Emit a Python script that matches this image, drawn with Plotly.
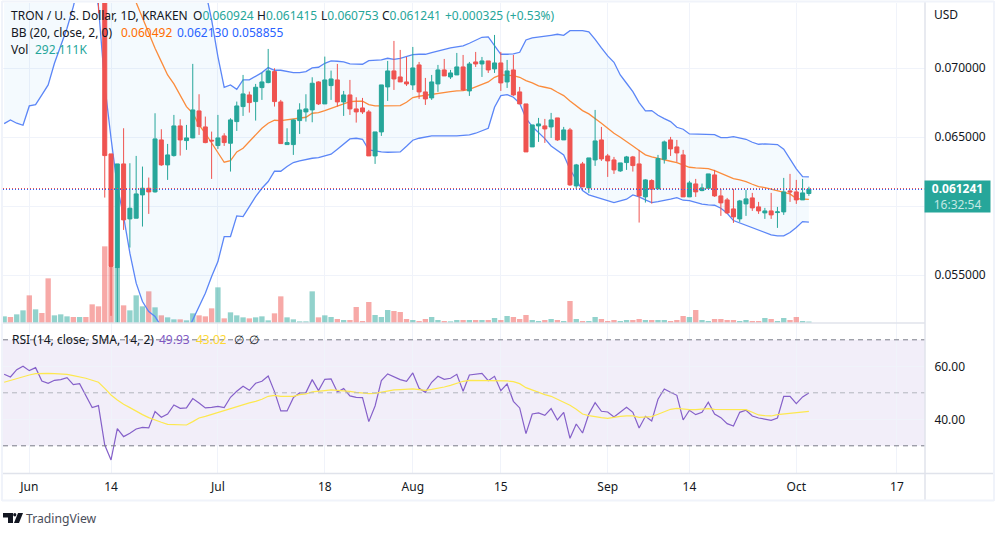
import pandas as pd
import plotly.graph_objects as go

W, H = 1004, 536
FONT = "Noto Sans"
TEAL = "#26a69a"
RED = "#ef5350"
GRID = "#f0f3fa"
BORDER = "#e0e3eb"

dates = pd.date_range("2022-05-28", "2022-10-03", freq="D")

# ohlc, in units of 1e-6 USD. first 14 days are above the visible range
opens = [79000, 79800, 79200, 81500, 82200, 79200, 80400, 79800, 79000, 79500, 80300, 80800, 80000, 80500,
         79000, 77500, 76200, 63794, 55558, 63069, 59084, 59133, 60823, 61306, 61041, 64808, 62997, 63673, 65822, 64760, 64953, 66909, 65750, 64784,
         64398, 65098, 64567, 66136, 67223, 68068, 67585, 68600, 68962, 69759, 67561, 64470, 64470, 66209, 66837, 66982, 69010, 67416,
         68744, 69155, 67561, 68068, 67054, 67126, 66837, 63649, 65388, 68648, 69807, 69372, 69010,
         68793, 70242, 68286, 67851, 68865, 69880, 69372, 69517, 70097, 68358, 70459, 70314, 70532, 69952, 70387, 69010, 69880, 68286, 67416, 64301, 65822, 65822, 65750, 66402, 64808, 65532, 61475, 63069, 61330, 63359, 64808,
         63649, 63359, 62562, 63166, 63576, 63069, 60678, 61862, 61258, 63407, 64808, 64301, 63721, 60678, 61620, 61137, 61306, 62272, 60751, 60461, 59809, 59084, 60171, 60606, 59954, 59519, 59664, 59543, 59592, 61113,
         61041, 60461, 60924]
highs = [80200, 80500, 82000, 83000, 82900, 80900, 81200, 80200, 80000, 80800, 81200, 81500, 81000, 81000,
         79500, 78000, 76800, 63794, 63069, 65653, 63118, 63649, 62876, 62079, 66740, 65581, 64518, 66619, 66305, 65895, 70318, 68117, 66499, 65412,
         66619, 65291, 66378, 67585, 69517, 68310, 68865, 69686, 71401, 70000, 67706, 65653, 66305, 67465, 68117, 69348, 69058, 70846,
         69831, 70314, 68358, 69155, 67899, 67851, 66982, 65388, 68793, 70532, 71981, 71329, 70821,
         71546, 70459, 69300, 69517, 70242, 70676, 69880, 71111, 70966, 70459, 71184, 70821, 70532, 72415, 71184, 70604, 70966, 68648, 67416, 65895, 66402, 66330, 66764, 66402, 65750, 65677, 63069, 63214, 63504, 66982, 65750,
         63794, 63576, 63142, 63649, 63649, 64084, 61958, 61958, 63721, 64760, 65025, 64808, 64084, 61838, 61982, 61644, 62345, 62635, 61258, 60606, 61258, 60461, 61186, 60968, 60316, 59881, 60968, 59954, 62055, 62345,
         61910, 61983, 61415]
lows = [78400, 78900, 79000, 80800, 78500, 78600, 79300, 77500, 78500, 79100, 79300, 79700, 79600, 78500,
        74830, 73985, 60630, 52057, 51574, 58287, 57008, 59133, 58529, 59447, 60992, 62924, 61910, 63600, 63673, 64084, 64929, 65170, 64567, 61982,
        64156, 64373, 62514, 65460, 66547, 66788, 66209, 67706, 68914, 67223, 64518, 64470, 63721, 65243, 66136, 66088, 67344, 67416,
        67706, 67223, 66547, 66619, 66064, 66692, 63649, 63069, 65098, 67634, 68430, 69010, 68720,
        68430, 67779, 67344, 67706, 68286, 69445, 69227, 69517, 68358, 67996, 70097, 69372, 69662, 69662, 68358, 68575, 67996, 67416, 63939, 64301, 64663, 64591, 64953, 64735, 64808, 61475, 61258, 61403, 60968, 62924, 63287,
        62127, 62345, 62490, 62635, 62514, 58819, 60268, 60195, 61258, 63093, 63649, 63214, 60678, 60678, 60678, 61089, 61306, 60678, 59302, 59447, 58795, 58867, 59302, 59664, 59447, 59084, 59084, 58432, 59374, 60316,
        60171, 60461, 60753]
closes = [79800, 79200, 81500, 82200, 79200, 80400, 79800, 79000, 79500, 80300, 80800, 80000, 80500, 79000,
          77500, 76200, 63673, 55631, 63069, 59012, 59857, 60896, 61306, 61041, 64881, 62997, 63721, 65822, 64808, 64953, 66982, 65774, 64615, 64736,
          64953, 64615, 66257, 67271, 68141, 67513, 68624, 69010, 69807, 67585, 64542, 64615, 66257, 66982, 67054, 68914, 67416, 69155,
          69227, 67561, 68068, 67054, 66837, 66837, 63649, 65388, 68793, 69807, 69227, 69010, 68865,
          70024, 68286, 67779, 69010, 69880, 69445, 69662, 70097, 68430, 70314, 70314, 70532, 69880, 70387, 68938, 69807, 68068, 67416, 63939, 65895, 65967, 65605, 66257, 64808, 65532, 61548, 62997, 61403, 63504, 64736, 63431,
          63287, 62635, 63142, 63576, 62948, 60751, 61910, 61234, 63456, 64663, 64156, 63866, 60678, 61693, 61041, 61330, 62345, 60751, 60244, 59519, 59230, 60388, 60534, 59881, 59664, 59664, 59374, 59592, 61041, 61041,
          60461, 60968, 61241]

# volume in thousands
volume = [1330, 1200, 1730, 2530, 5530, 2730, 2000, 8930, 1530, 1730, 1330, 1200, 1200, 1200, 3730, 3330, 15330, 11200, 11200, 3530, 2530, 5530, 3330, 6330, 3130, 1530, 1130, 730, 730, 530, 1930, 1530, 1330, 2930,
          7130, 930, 2130, 1530, 1130, 930, 1130, 1330, 530, 1930, 5330, 1130, 730, 330, 330, 6330, 1130, 1530,
          1200, 800, 600, 600, 3200, 400, 4200, 1600, 1200, 2600, 2400, 2200, 800,
          600, 400, 800, 1200, 600, 400, 333, 600, 600, 600, 600, 600, 600, 1000, 600, 1400, 1200, 800, 1600, 600, 400, 600, 800, 600, 400, 4400, 800, 400, 400, 1200, 800,
          400, 600, 400, 600, 600, 800, 600, 600, 600, 600, 400, 600, 1400, 1200, 2600, 600, 400, 800, 800, 600, 600, 400, 600, 400, 400, 1000, 800, 400, 1000, 600,
          1200, 400, 292]

bb_upper = [92000, 92000, 92000, 91500, 91000, 91000, 90500, 90000, 90000, 89500, 89000, 88500, 88000, 88000, 88000, 88000, 89000, 89500, 90000, 90000, 90000, 90000, 89500, 89000, 88500, 88000, 87000, 86000, 84500, 83000, 81000, 78500, 75676, 73502,
            70846, 68624, 68793, 68479, 69155, 69155, 69396, 69686, 70049, 69855, 69855, 69759, 69686, 69686, 69759, 70025, 70073, 70362,
            70532, 70507, 70459, 70314, 70290, 70290, 70556, 70556, 70604, 70725, 70652, 70725, 70846,
            70990, 71015, 71015, 71135, 71256, 71377, 71473, 71546, 71618, 71812, 72053, 72246, 72270, 71618, 71015, 71015, 71039, 71159, 72053, 72198, 72246, 72343, 72391, 72464, 72391, 72729, 72753, 72729, 72633, 72101, 71473,
            70894, 70435, 69517, 68914, 68310, 67513, 66909, 66933, 66595, 66354, 66136, 65726, 65581, 65243, 65243, 65243, 65243, 65194, 64977, 64977, 65050, 64977, 64856, 64639, 64494, 64518, 64518, 64470, 64132, 63407,
            62707, 62152, 62130]
bb_basis = [83500, 83500, 83400, 83300, 83200, 83000, 82800, 82500, 82200, 81900, 81500, 81000, 80500, 80000, 79500, 79000, 78700, 78400, 77900, 76883, 75676, 74758, 73623, 72488, 71449, 70483, 69517, 68865, 68068, 67223, 66740, 65895, 65291, 64615,
            63842, 63190, 63311, 63939, 64204, 64688, 65170, 65653, 66016, 66233, 66209, 66257, 66330, 66378, 66450, 66740, 66788, 66933,
            67102, 67271, 67464, 67585, 67609, 67609, 67368, 67271, 67271, 67271, 67271, 67296, 67537,
            67875, 67972, 68044, 68141, 68213, 68286, 68310, 68358, 68382, 68479, 68648, 68817, 69010, 69348, 69517, 69493, 69469, 69348, 69107, 68938, 68720, 68624, 68527, 68261, 68020, 67634, 67271, 66933, 66692, 66378, 66016,
            65653, 65291, 65001, 64711, 64373, 64035, 63721, 63576, 63456, 63359, 63262, 63166, 62973, 62828, 62780, 62731, 62731, 62586, 62393, 62200, 62007, 61910, 61789, 61596, 61427, 61355, 61234, 61137, 61041, 60896,
            60558, 60509, 60492]
bb_lower = [65991, 66257, 66016, 65870, 67271, 67368, 68068, 68793, 70362, 71570, 72898, 74468, 76400, 77366, 76883, 74468, 68793, 64929, 61427, 59253, 56597, 54424, 53095, 52371, 52008, 51284, 50560, 50076, 50076, 50801, 51767, 52733, 53699, 54906,
            55993, 57804, 57804, 59302, 59253, 59978, 60703, 61306, 61789, 62538, 62538, 62876, 63166, 63287, 63407, 63480, 63528, 63649,
            63770, 64132, 64518, 64880, 64929, 64856, 64084, 63987, 63939, 63915, 63915, 63939, 64349,
            64784, 64929, 65025, 65098, 65098, 65122, 65098, 65098, 65122, 65170, 65291, 65460, 65653, 67175, 68020, 68092, 67899, 67464, 66378, 65774, 65363, 64905, 64373, 64035, 63721, 62683, 61958, 61137, 60823, 60678, 60533,
            60389, 60268, 60389, 60509, 60823, 60678, 60461, 60268, 60340, 60413, 60509, 60630, 60437, 60413, 60292, 60147, 60099, 60075, 59857, 59495, 58964, 58795, 58650, 58481, 58287, 58094, 57925, 57853, 57853, 58094,
            58457, 58891, 58855]

rsi = [56.98, 55.98, 58.75, 60.0, 58.37, 59.5, 54.47, 53.59, 54.72, 54.97, 55.73, 53.08, 53.46, 49.06, 44.4, 45.16, 30.31, 24.65, 36.48, 33.46, 34.72, 36.35, 36.98, 36.73, 42.9, 40.76, 42.01, 45.41, 44.15, 44.28, 47.8, 46.17, 44.28, 44.53,
       44.91, 44.4, 48.3, 50.57, 52.46, 50.95, 53.59, 54.34, 56.36, 50.44, 43.15, 43.15, 48.18, 49.94, 50.07, 54.97, 50.82, 55.1,
       55.22, 50.32, 51.58, 48.81, 48.3, 48.18, 39.12, 45.03, 54.59, 57.11, 55.98, 54.97, 54.34,
       57.49, 51.7, 50.19, 53.97, 56.23, 55.1, 55.48, 56.98, 50.57, 56.73, 56.98, 57.36, 54.59, 56.23, 50.82, 53.34, 46.79, 44.28, 34.59, 42.01, 42.39, 41.51, 44.03, 39.75, 42.64, 32.83, 38.24, 34.84, 42.01, 46.29, 43.02,
       42.77, 40.88, 42.77, 44.53, 42.64, 36.73, 41.13, 39.37, 47.55, 51.45, 50.19, 49.06, 39.75, 43.4, 41.76, 42.64, 46.42, 42.01, 40.63, 38.37, 37.49, 42.64, 43.4, 41.26, 40.5, 40.13, 39.62, 40.5, 48.68, 48.68,
       45.91, 48.43, 49.93]
rsi_ma = [53.97, 54.72, 55.48, 56.1, 56.73, 57.24, 57.36, 57.36, 57.24, 57.24, 56.98, 56.48, 56.1, 55.48, 54.72, 53.97, 51.7, 49.18, 47.3, 45.66, 44.4, 43.02, 41.76, 40.63, 39.62, 38.87, 38.12, 37.99, 37.86, 37.86, 39.12, 40.5, 41.13, 41.89,
          42.64, 43.27, 44.03, 44.91, 45.54, 46.17, 46.79, 47.55, 48.68, 49.06, 48.68, 48.56, 48.68, 49.31, 49.56, 50.32, 50.44, 50.82,
          51.07, 50.95, 50.82, 50.57, 50.19, 49.94, 49.69, 49.81, 50.19, 50.82, 51.07, 51.2, 51.32,
          51.45, 51.2, 50.95, 51.32, 51.7, 52.2, 52.83, 53.59, 54.34, 54.72, 54.72, 54.72, 54.59, 54.59, 54.47, 54.47, 54.22, 53.46, 51.95, 51.07, 50.07, 49.31, 48.68, 47.55, 46.54, 45.28, 43.78, 42.01, 41.39, 40.88, 40.63,
          40.38, 40.88, 41.13, 41.26, 41.26, 40.76, 40.76, 41.01, 41.89, 42.77, 43.78, 44.15, 43.78, 43.65, 43.65, 43.78, 44.03, 43.78, 43.78, 43.65, 43.52, 43.65, 43.65, 42.64, 41.64, 41.39, 41.26, 41.76, 42.01, 42.14,
          42.27, 42.77, 43.02]

tick_dates = ["2022-06-01", "2022-06-14", "2022-07-01", "2022-07-18", "2022-08-01", "2022-08-15", "2022-09-01", "2022-09-14", "2022-10-01", "2022-10-17"]
tick_labels = ["Jun", "14", "Jul", "18", "Aug", "15", "Sep", "14", "Oct", "17"]
price_ticks = [0.07, 0.065, 0.06, 0.055]
price_labels = ["0.070000", "0.065000", "", "0.055000"]
rsi_ticks = [60, 40]
rsi_labels = ["60.00", "40.00"]

for arr in [opens, highs, lows, closes, volume, bb_upper, bb_basis, bb_lower, rsi, rsi_ma]:
    assert len(arr) == len(dates), len(arr)


def usd(arr):
    return [v / 1e6 for v in arr]


def px(x):
    return x / W


def py(y):
    return 1 - y / H


vol_colors = ["rgba(38,166,154,0.5)" if c >= o else "rgba(239,83,80,0.5)" for o, c in zip(opens, closes)]

fig = go.Figure()
fig.add_trace(go.Bar(x=dates, y=volume, marker_color=vol_colors, marker_line_width=0, yaxis="y", xaxis="x"))
fig.add_trace(go.Scatter(x=dates, y=usd(bb_upper), mode="lines", line=dict(color="#5b86f7", width=1.3), yaxis="y2"))
fig.add_trace(go.Scatter(x=dates, y=usd(bb_lower), mode="lines", line=dict(color="#5b86f7", width=1.3), yaxis="y2",
                         fill="tonexty", fillcolor="rgba(33,150,243,0.05)"))
fig.add_trace(go.Scatter(x=dates, y=usd(bb_basis), mode="lines", line=dict(color="#fb8c3c", width=1.3), yaxis="y2"))
fig.add_trace(go.Candlestick(x=dates, open=usd(opens), high=usd(highs), low=usd(lows), close=usd(closes), yaxis="y3",
                             increasing=dict(line=dict(color=TEAL, width=1), fillcolor=TEAL),
                             decreasing=dict(line=dict(color=RED, width=1), fillcolor=RED),
                             whiskerwidth=0))
fig.add_trace(go.Scatter(x=dates, y=rsi, mode="lines", line=dict(color="#8560c9", width=1.2), yaxis="y4"))
fig.add_trace(go.Scatter(x=dates, y=rsi_ma, mode="lines", line=dict(color="#fde84f", width=1.2), yaxis="y4"))

main_dom = [py(323), py(3)]
rsi_dom = [py(473.5), py(323)]
price_range = [0.05154, 0.07473]
tick_font = dict(family=FONT, size=12, color="#131722")

fig.update_layout(
    width=W, height=H, margin=dict(l=0, r=0, t=0, b=0),
    paper_bgcolor="white", plot_bgcolor="white",
    showlegend=False, bargap=0.15, boxgap=0.09,
    font=dict(family=FONT, size=12, color="#131722"),
    xaxis=dict(domain=[px(3), px(925)], anchor="y4", type="date",
               range=["2022-05-27 19:36", "2022-10-21 11:17"],
               tickmode="array", tickvals=tick_dates, ticktext=tick_labels,
               showgrid=True, gridcolor=GRID, gridwidth=1, zeroline=False,
               ticks="outside", ticklen=2, tickcolor="rgba(0,0,0,0)",
               tickfont=tick_font, rangeslider=dict(visible=False)),
    yaxis=dict(domain=main_dom, range=[0, 64000], visible=False, fixedrange=True),
    yaxis2=dict(domain=main_dom, overlaying="y", range=price_range, visible=False),
    yaxis3=dict(domain=main_dom, overlaying="y", range=price_range, side="right", anchor="x",
                tickmode="array", tickvals=price_ticks, ticktext=price_labels,
                showgrid=True, gridcolor=GRID, zeroline=False,
                ticks="outside", ticklen=6, tickcolor="rgba(0,0,0,0)", tickfont=tick_font),
    yaxis4=dict(domain=rsi_dom, range=[19.55, 76.34], side="right", anchor="x",
                tickmode="array", tickvals=rsi_ticks, ticktext=rsi_labels,
                showgrid=True, gridcolor=GRID, zeroline=False,
                ticks="outside", ticklen=6, tickcolor="rgba(0,0,0,0)", tickfont=tick_font),
)

shapes = [
    dict(type="rect", xref="x domain", yref="y4", x0=0, x1=1, y0=30, y1=70, layer="below",
         fillcolor="rgba(126,87,194,0.1)", line_width=0),
]
for level, col in [(70, "#787b86"), (50, "#b2b5be"), (30, "#787b86")]:
    shapes.append(dict(type="line", xref="x domain", yref="y4", x0=0, x1=1, y0=level, y1=level,
                       line=dict(color=col, width=1, dash="5px,4px")))
# last price line, red dots over blue dots
for y, col in [(188.5, RED), (189.5, "#2962ff")]:
    shapes.append(dict(type="line", xref="x domain", yref="paper", x0=0, x1=1, y0=py(y), y1=py(y),
                       line=dict(color=col, width=1, dash="1px,2px")))
# pane borders
for x0, y0, x1, y1, col, w in [(2, 323, 925, 323, BORDER, 1.5), (2, 473.5, 994, 473.5, BORDER, 1.5), (925, 2, 925, 500, BORDER, 1.5),
                               (2, 1.5, 994, 1.5, GRID, 2), (2, 500.5, 994, 500.5, GRID, 2), (2, 1, 2, 501, GRID, 2), (994, 1, 994, 501, GRID, 2)]:
    shapes.append(dict(type="line", xref="paper", yref="paper", x0=px(x0), x1=px(x1), y0=py(y0), y1=py(y1), line=dict(color=col, width=w)))
# logo
logo = [(3, 513), (13, 513), (13, 523), (8, 523), (8, 517.5), (3, 517.5)]
logo2 = [(18, 513), (23, 513), (19, 523), (14, 523)]
for pts in [logo, logo2]:
    path = "M " + " L ".join(f"{px(a):.5f},{py(b):.5f}" for a, b in pts) + " Z"
    shapes.append(dict(type="path", xref="paper", yref="paper", path=path, fillcolor="#131722", line_width=0))
shapes.append(dict(type="circle", xref="paper", yref="paper", x0=px(13.2), x1=px(16.4), y0=py(516.6), y1=py(513), fillcolor="#131722", line_width=0))
fig.update_layout(shapes=shapes)


def label(x, y, text, size=12, color="#131722"):
    fig.add_annotation(xref="paper", yref="paper", x=px(x - 2), y=py(y), text=text, showarrow=False,
                       xanchor="left", yanchor="middle", align="left",
                       font=dict(family=FONT, size=size, color=color))


label(11, 15.5, "TRON / U. S. Dollar, 1D, KRAKEN")
for x, letter, value in [(193, "O", "0.060924"), (257, "H", "0.061415"), (321, "L", "0.060753"), (382, "C", "0.061241")]:
    label(x, 15.5, f"{letter}<span style='color:{TEAL}'>{value}</span>")
label(445, 15.5, "+0.000325 (+0.53%)", color=TEAL)
label(11, 32.5, "BB (20, close, 2, 0)")
label(121, 32.5, "0.060492", color="#ff6d00")
label(177, 32.5, "0.062130", color="#2962ff")
label(232, 32.5, "0.058855", color="#2962ff")
label(11, 49.5, "Vol")
label(35, 49.5, "292.111K", color=TEAL)
label(11.5, 339, "RSI (14, close, SMA, 14, 2)")
label(158.5, 339, "49.93", color="#7e57c2")
label(196, 339, "43.02", color="#fdd835")
label(234, 339, "∅")
label(249, 339, "∅")
label(934, 14.5, "USD")
label(26, 518, "TradingView", size=12.2, color="#4a4e5a")

# last price tag
fig.add_annotation(xref="paper", yref="paper", x=px(924), y=py(196.5), width=65, height=31,
                   text="<b>0.061241</b><br><span style='color:#c4e8e4'>16:32:54</span>",
                   showarrow=False, xanchor="left", yanchor="middle", align="center", bgcolor=TEAL, borderpad=0,
                   font=dict(family=FONT, size=12, color="white"))

fig.write_html("out.html", config=dict(displayModeBar=False), post_script="document.body.style.margin='0';")
